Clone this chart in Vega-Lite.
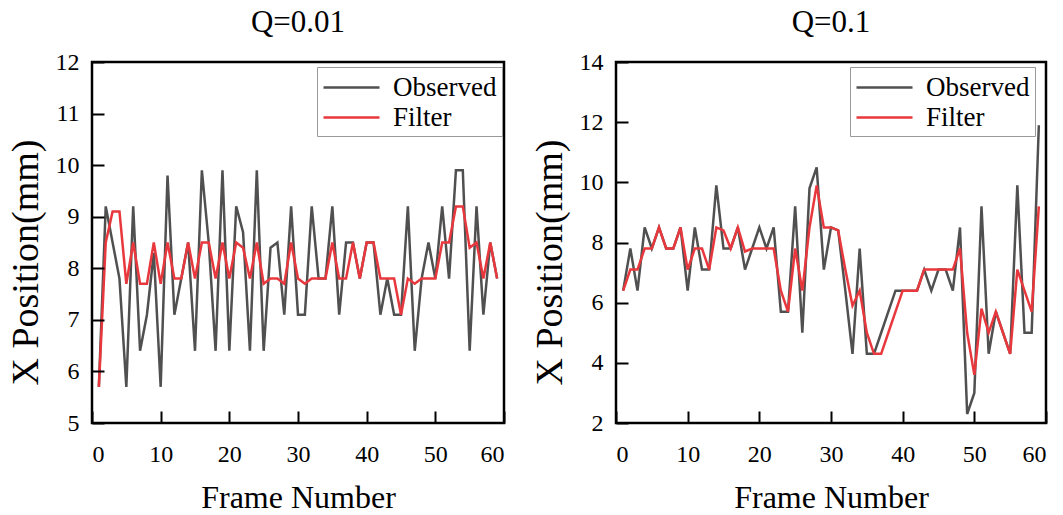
{
  "$schema": "https://vega.github.io/schema/vega-lite/v6.json",
  "padding": {"left": 5, "top": 5, "right": 5, "bottom": 5},
  "bounds": "flush",
  "spacing": 112,
  "resolve": {"scale": {"color": "independent"}, "legend": {"color": "independent"}},
  "datasets": {
    "q001": [
      {"frame": 1, "Observed": 5.7, "Filter": 5.7},
      {"frame": 2, "Observed": 9.2, "Filter": 8.5},
      {"frame": 3, "Observed": 8.5, "Filter": 9.1},
      {"frame": 4, "Observed": 7.8, "Filter": 9.1},
      {"frame": 5, "Observed": 5.7, "Filter": 7.7},
      {"frame": 6, "Observed": 9.2, "Filter": 8.5},
      {"frame": 7, "Observed": 6.4, "Filter": 7.7},
      {"frame": 8, "Observed": 7.1, "Filter": 7.7},
      {"frame": 9, "Observed": 8.3, "Filter": 8.5},
      {"frame": 10, "Observed": 5.7, "Filter": 7.7},
      {"frame": 11, "Observed": 9.8, "Filter": 8.5},
      {"frame": 12, "Observed": 7.1, "Filter": 7.8},
      {"frame": 13, "Observed": 7.8, "Filter": 7.8},
      {"frame": 14, "Observed": 8.5, "Filter": 8.5},
      {"frame": 15, "Observed": 6.4, "Filter": 7.8},
      {"frame": 16, "Observed": 9.9, "Filter": 8.5},
      {"frame": 17, "Observed": 8.5, "Filter": 8.5},
      {"frame": 18, "Observed": 6.4, "Filter": 7.8},
      {"frame": 19, "Observed": 9.9, "Filter": 8.5},
      {"frame": 20, "Observed": 6.4, "Filter": 7.8},
      {"frame": 21, "Observed": 9.2, "Filter": 8.5},
      {"frame": 22, "Observed": 8.7, "Filter": 8.4},
      {"frame": 23, "Observed": 6.4, "Filter": 7.8},
      {"frame": 24, "Observed": 9.9, "Filter": 8.5},
      {"frame": 25, "Observed": 6.4, "Filter": 7.7},
      {"frame": 26, "Observed": 8.4, "Filter": 7.8},
      {"frame": 27, "Observed": 8.5, "Filter": 7.8},
      {"frame": 28, "Observed": 7.1, "Filter": 7.7},
      {"frame": 29, "Observed": 9.2, "Filter": 8.5},
      {"frame": 30, "Observed": 7.1, "Filter": 7.8},
      {"frame": 31, "Observed": 7.1, "Filter": 7.7},
      {"frame": 32, "Observed": 9.2, "Filter": 7.8},
      {"frame": 33, "Observed": 7.8, "Filter": 7.8},
      {"frame": 34, "Observed": 7.8, "Filter": 7.8},
      {"frame": 35, "Observed": 9.2, "Filter": 8.5},
      {"frame": 36, "Observed": 7.1, "Filter": 7.8},
      {"frame": 37, "Observed": 8.5, "Filter": 7.8},
      {"frame": 38, "Observed": 8.5, "Filter": 8.5},
      {"frame": 39, "Observed": 7.8, "Filter": 7.8},
      {"frame": 40, "Observed": 8.5, "Filter": 8.5},
      {"frame": 41, "Observed": 8.5, "Filter": 8.5},
      {"frame": 42, "Observed": 7.1, "Filter": 7.8},
      {"frame": 43, "Observed": 7.8, "Filter": 7.8},
      {"frame": 44, "Observed": 7.1, "Filter": 7.8},
      {"frame": 45, "Observed": 7.1, "Filter": 7.1},
      {"frame": 46, "Observed": 9.2, "Filter": 7.8},
      {"frame": 47, "Observed": 6.4, "Filter": 7.7},
      {"frame": 48, "Observed": 7.8, "Filter": 7.8},
      {"frame": 49, "Observed": 8.5, "Filter": 7.8},
      {"frame": 50, "Observed": 7.8, "Filter": 7.8},
      {"frame": 51, "Observed": 9.2, "Filter": 8.5},
      {"frame": 52, "Observed": 7.8, "Filter": 8.5},
      {"frame": 53, "Observed": 9.9, "Filter": 9.2},
      {"frame": 54, "Observed": 9.9, "Filter": 9.2},
      {"frame": 55, "Observed": 6.4, "Filter": 8.4},
      {"frame": 56, "Observed": 9.2, "Filter": 8.5},
      {"frame": 57, "Observed": 7.1, "Filter": 7.8},
      {"frame": 58, "Observed": 8.5, "Filter": 8.5},
      {"frame": 59, "Observed": 7.8, "Filter": 7.8}
    ],
    "q01": [
      {"frame": 1, "Observed": 6.4, "Filter": 6.4},
      {"frame": 2, "Observed": 7.8, "Filter": 7.1},
      {"frame": 3, "Observed": 6.4, "Filter": 7.1},
      {"frame": 4, "Observed": 8.5, "Filter": 7.8},
      {"frame": 5, "Observed": 7.8, "Filter": 7.8},
      {"frame": 6, "Observed": 8.5, "Filter": 8.5},
      {"frame": 7, "Observed": 7.8, "Filter": 7.8},
      {"frame": 8, "Observed": 7.8, "Filter": 7.8},
      {"frame": 9, "Observed": 8.5, "Filter": 8.5},
      {"frame": 10, "Observed": 6.4, "Filter": 7.1},
      {"frame": 11, "Observed": 8.5, "Filter": 7.8},
      {"frame": 12, "Observed": 7.1, "Filter": 7.8},
      {"frame": 13, "Observed": 7.1, "Filter": 7.1},
      {"frame": 14, "Observed": 9.9, "Filter": 8.5},
      {"frame": 15, "Observed": 7.8, "Filter": 8.4},
      {"frame": 16, "Observed": 7.8, "Filter": 7.8},
      {"frame": 17, "Observed": 8.5, "Filter": 8.5},
      {"frame": 18, "Observed": 7.1, "Filter": 7.7},
      {"frame": 19, "Observed": 7.8, "Filter": 7.8},
      {"frame": 20, "Observed": 8.5, "Filter": 7.8},
      {"frame": 21, "Observed": 7.8, "Filter": 7.8},
      {"frame": 22, "Observed": 8.5, "Filter": 7.8},
      {"frame": 23, "Observed": 5.7, "Filter": 6.4},
      {"frame": 24, "Observed": 5.7, "Filter": 5.7},
      {"frame": 25, "Observed": 9.2, "Filter": 7.8},
      {"frame": 26, "Observed": 5.0, "Filter": 6.4},
      {"frame": 27, "Observed": 9.8, "Filter": 8.5},
      {"frame": 28, "Observed": 10.5, "Filter": 9.9},
      {"frame": 29, "Observed": 7.1, "Filter": 8.5},
      {"frame": 30, "Observed": 8.5, "Filter": 8.5},
      {"frame": 31, "Observed": 8.4, "Filter": 8.4},
      {"frame": 32, "Observed": 6.4, "Filter": 7.1},
      {"frame": 33, "Observed": 4.3, "Filter": 5.9},
      {"frame": 34, "Observed": 7.8, "Filter": 6.4},
      {"frame": 35, "Observed": 4.3, "Filter": 5.0},
      {"frame": 36, "Observed": 4.3, "Filter": 4.3},
      {"frame": 37, "Observed": 5.0, "Filter": 4.3},
      {"frame": 38, "Observed": 5.7, "Filter": 5.0},
      {"frame": 39, "Observed": 6.4, "Filter": 5.7},
      {"frame": 40, "Observed": 6.4, "Filter": 6.4},
      {"frame": 41, "Observed": 6.4, "Filter": 6.4},
      {"frame": 42, "Observed": 6.4, "Filter": 6.4},
      {"frame": 43, "Observed": 7.1, "Filter": 7.1},
      {"frame": 44, "Observed": 6.4, "Filter": 7.1},
      {"frame": 45, "Observed": 7.1, "Filter": 7.1},
      {"frame": 46, "Observed": 7.1, "Filter": 7.1},
      {"frame": 47, "Observed": 6.4, "Filter": 7.1},
      {"frame": 48, "Observed": 8.5, "Filter": 7.8},
      {"frame": 49, "Observed": 2.3, "Filter": 5.0},
      {"frame": 50, "Observed": 3.0, "Filter": 3.6},
      {"frame": 51, "Observed": 9.2, "Filter": 5.8},
      {"frame": 52, "Observed": 4.3, "Filter": 5.0},
      {"frame": 53, "Observed": 5.7, "Filter": 5.7},
      {"frame": 54, "Observed": 5.0, "Filter": 5.0},
      {"frame": 55, "Observed": 4.3, "Filter": 4.3},
      {"frame": 56, "Observed": 9.9, "Filter": 7.1},
      {"frame": 57, "Observed": 5.0, "Filter": 6.4},
      {"frame": 58, "Observed": 5.0, "Filter": 5.7},
      {"frame": 59, "Observed": 11.9, "Filter": 9.2}
    ]
  },
  "config": {
    "font": "Liberation Serif",
    "view": {"stroke": "black", "strokeWidth": 2.5},
    "axis": {
      "grid": false, "domain": false, "offset": -12, "zindex": 1,
      "labelFont": "Liberation Serif", "labelFontSize": 24, "labelColor": "black",
      "titleFont": "Liberation Serif", "titleColor": "black", "titleFontWeight": "normal"
    },
    "axisX": {"labelPadding": 19, "titleFontSize": 32, "titlePadding": 16},
    "axisY": {"labelPadding": 13, "titleFontSize": 38, "titlePadding": 10, "titleY": 200},
    "legend": {
      "orient": "none", "title": null, "strokeColor": "#999999", "padding": 5,
      "symbolType": "M-1,0H3", "symbolSize": 784, "symbolStrokeWidth": 2.5,
      "labelFont": "Liberation Serif", "labelFontSize": 27, "labelColor": "black",
      "labelOffset": 40, "rowPadding": 1
    },
    "title": {"font": "Liberation Serif", "fontSize": 31, "fontWeight": "normal", "color": "black", "offset": 11}
  },
  "hconcat": [
    {
      "title": "Q=0.01",
      "width": 412, "height": 361,
      "data": {"name": "q001"},
      "layer": [
        {
          "mark": {"type": "line", "strokeWidth": 2.5},
          "encoding": {
            "x": {"field": "frame", "type": "quantitative", "scale": {"domain": [0, 60]}, "axis": {"values": [0, 10, 20, 30, 40, 50, 60], "title": "Frame Number", "ticks": true, "tickColor": "black", "tickOpacity": 1, "tickWidth": 2, "tickSize": 12, "zindex": 2}},
            "y": {"field": "Observed", "type": "quantitative", "scale": {"domain": [5, 12]}, "axis": {"values": [5, 6, 7, 8, 9, 10, 11, 12], "format": "d", "title": "X Position(mm)", "ticks": true, "tickColor": "black", "tickOpacity": 1, "tickWidth": 2, "tickSize": 12, "zindex": 2}},
            "color": {"datum": "Observed", "type": "nominal", "scale": {"domain": ["Observed", "Filter"], "range": ["#505050", "#e8383d"]}, "legend": {"legendX": 225, "legendY": 5}}
          }
        },
        {
          "mark": {"type": "line", "strokeWidth": 2.5},
          "encoding": {
            "x": {"field": "frame", "type": "quantitative"},
            "y": {"field": "Filter", "type": "quantitative"},
            "color": {"datum": "Filter", "type": "nominal"}
          }
        }
      ]
    },
    {
      "title": "Q=0.1",
      "width": 430, "height": 361,
      "data": {"name": "q01"},
      "layer": [
        {
          "mark": {"type": "line", "strokeWidth": 2.5},
          "encoding": {
            "x": {"field": "frame", "type": "quantitative", "scale": {"domain": [0, 60]}, "axis": {"values": [0, 10, 20, 30, 40, 50, 60], "title": "Frame Number", "ticks": true, "tickColor": "black", "tickOpacity": 1, "tickWidth": 2, "tickSize": 12, "zindex": 2}},
            "y": {"field": "Observed", "type": "quantitative", "scale": {"domain": [2, 14]}, "axis": {"values": [2, 4, 6, 8, 10, 12, 14], "format": "d", "title": "X Position(mm)", "ticks": true, "tickColor": "black", "tickOpacity": 1, "tickWidth": 2, "tickSize": 12, "zindex": 2}},
            "color": {"datum": "Observed", "type": "nominal", "scale": {"domain": ["Observed", "Filter"], "range": ["#505050", "#e8383d"]}, "legend": {"legendX": 234, "legendY": 5}}
          }
        },
        {
          "mark": {"type": "line", "strokeWidth": 2.5},
          "encoding": {
            "x": {"field": "frame", "type": "quantitative"},
            "y": {"field": "Filter", "type": "quantitative"},
            "color": {"datum": "Filter", "type": "nominal"}
          }
        }
      ]
    }
  ]
}
